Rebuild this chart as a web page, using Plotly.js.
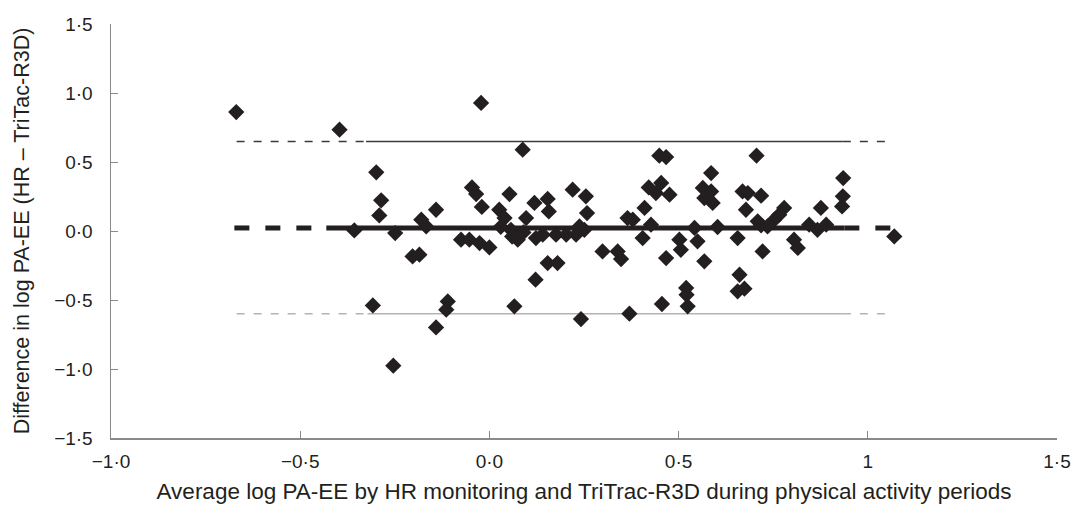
<!DOCTYPE html>
<html>
<head>
<meta charset="utf-8">
<script src="https://cdn.plot.ly/plotly-3.0.1.min.js"></script>
<style>html,body{margin:0;padding:0;background:#fff;}#chart{width:1074px;height:520px;}</style>
</head>
<body>
<div id="chart"></div>
<script>
// Average log PA-EE (x) and difference in log PA-EE (y)
const avgLogPAEE = [
  -0.669,-0.396,-0.299,-0.286,-0.291,-0.357,-0.249,-0.180,-0.167,-0.141,
  -0.203,-0.185,-0.308,-0.254,-0.110,-0.114,-0.141,-0.022,0.088,-0.046,
  -0.035,-0.020,0.053,0.026,0.040,0.057,0.075,0.097,0.119,0.154,
  0.157,0.123,0.141,0.176,-0.075,-0.053,-0.026,0.000,0.154,0.180,
  0.122,0.066,0.220,0.255,0.258,0.203,0.229,0.238,0.251,0.242,
  0.299,0.339,0.348,0.365,0.379,0.370,0.405,0.410,0.421,0.440,
  0.454,0.449,0.467,0.476,0.427,0.467,0.502,0.506,0.520,0.521,
  0.524,0.456,0.542,0.550,0.568,0.586,0.564,0.586,0.568,0.590,
  0.603,0.706,0.669,0.683,0.718,0.678,0.779,0.766,0.753,0.709,
  0.718,0.656,0.722,0.805,0.815,0.661,0.656,0.674,0.845,0.867,
  0.890,0.876,0.935,0.934,0.932,1.070,0.030,0.060,0.090,0.735
];
const diffLogPAEE = [
  0.862,0.734,0.425,0.222,0.113,0.004,-0.015,0.082,0.033,0.154,
  -0.184,-0.172,-0.539,-0.976,-0.510,-0.570,-0.699,0.928,0.589,0.316,
  0.268,0.174,0.268,0.154,0.094,0.009,-0.063,0.094,0.203,0.232,
  0.142,-0.051,-0.027,-0.027,-0.063,-0.063,-0.087,-0.119,-0.232,-0.232,
  -0.353,-0.546,0.299,0.251,0.130,-0.027,-0.027,0.033,0.009,-0.638,
  -0.148,-0.148,-0.203,0.094,0.082,-0.599,-0.051,0.167,0.316,0.275,
  0.348,0.546,0.536,0.263,0.046,-0.196,-0.063,-0.136,-0.413,-0.462,
  -0.546,-0.529,0.022,-0.075,-0.220,0.420,0.312,0.287,0.239,0.203,
  0.029,0.546,0.287,0.275,0.256,0.154,0.167,0.118,0.082,0.070,
  0.041,-0.051,-0.148,-0.063,-0.123,-0.317,-0.437,-0.418,0.046,0.009,
  0.046,0.167,0.384,0.251,0.178,-0.039,0.030,-0.040,-0.010,0.033
];

// Bias and limits of agreement
const meanDiff = 0.022;
const upperLimit = 0.649;
const lowerLimit = -0.599;
// x extents of the reference lines: [dashed start, solid start, solid end, dashed end]
const meanLineX = [-0.674, -0.431, 0.938, 1.075];
const upperLineX = [-0.668, -0.326, 0.934, 1.061];
const lowerLineX = [-0.668, -0.322, 0.934, 1.061];

const xTickVals = [-1, -0.5, 0, 0.5, 1, 1.5];
const xTickText = ['\u22121\u00b70', '\u22120\u00b75', '0\u00b70', '0\u00b75', '1', '1\u00b75'];
const yTickVals = [-1.5, -1, -0.5, 0, 0.5, 1, 1.5];
const yTickText = ['\u22121\u00b75', '\u22121\u00b70', '\u22120\u00b75', '0\u00b70', '0\u00b75', '1\u00b70', '1\u00b75'];

const xTitle = 'Average log PA-EE by HR monitoring and TriTrac-R3D during physical activity periods';
const yTitle = 'Difference in log PA-EE (HR \u2013 TriTac-R3D)';

function refLine(xs, yv, color, width, dash) {
  return [
    {x: [xs[0], xs[1]], y: [yv, yv], mode: 'lines', line: {color: color, width: width, dash: dash}, hoverinfo: 'skip', showlegend: false},
    {x: [xs[1], xs[2]], y: [yv, yv], mode: 'lines', line: {color: color, width: width, dash: 'solid'}, hoverinfo: 'skip', showlegend: false},
    {x: [xs[2], xs[3]], y: [yv, yv], mode: 'lines', line: {color: color, width: width, dash: dash}, hoverinfo: 'skip', showlegend: false}
  ];
}

const traces = [].concat(
  refLine(lowerLineX, lowerLimit, '#b3b3b3', 1.5, '8px,9px'),
  refLine(upperLineX, upperLimit, '#3a3a3a', 1.5, '8px,9px'),
  refLine(meanLineX, meanDiff, '#231f20', 5, '15px,16px'),
  [{
    x: avgLogPAEE, y: diffLogPAEE, mode: 'markers', type: 'scatter',
    marker: {symbol: 'diamond', size: 12.5, color: '#231f20', line: {width: 0}},
    showlegend: false
  }]
);

const fontFam = '"Liberation Sans", Arial, sans-serif';
const layout = {
  width: 1074, height: 520,
  margin: {l: 111, r: 17, t: 24, b: 82},
  paper_bgcolor: '#ffffff', plot_bgcolor: '#ffffff',
  font: {family: fontFam, color: '#231f20', size: 19},
  showlegend: false,
  xaxis: {
    range: [-1, 1.5], tickvals: xTickVals, ticktext: xTickText,
    ticks: 'inside', ticklen: 7, tickwidth: 1, tickcolor: '#8a8a8a',
    showline: true, linecolor: '#8a8a8a', linewidth: 1.5,
    showgrid: false, zeroline: false, ticklabelstandoff: 6,
    tickfont: {size: 19, family: fontFam, color: '#231f20'},
    title: {text: xTitle, font: {size: 22.5, family: fontFam, color: '#231f20'}, standoff: 12}
  },
  yaxis: {
    range: [-1.5, 1.5], tickvals: yTickVals, ticktext: yTickText,
    ticks: 'inside', ticklen: 7, tickwidth: 1, tickcolor: '#8a8a8a',
    showline: true, linecolor: '#8a8a8a', linewidth: 1.5,
    showgrid: false, zeroline: false, ticklabelstandoff: 13,
    tickfont: {size: 19, family: fontFam, color: '#231f20'},
    title: {text: yTitle, font: {size: 21.5, family: fontFam, color: '#231f20'}, standoff: 18}
  }
};

Plotly.newPlot('chart', traces, layout, {displayModeBar: false, staticPlot: true});
</script>
</body>
</html>
